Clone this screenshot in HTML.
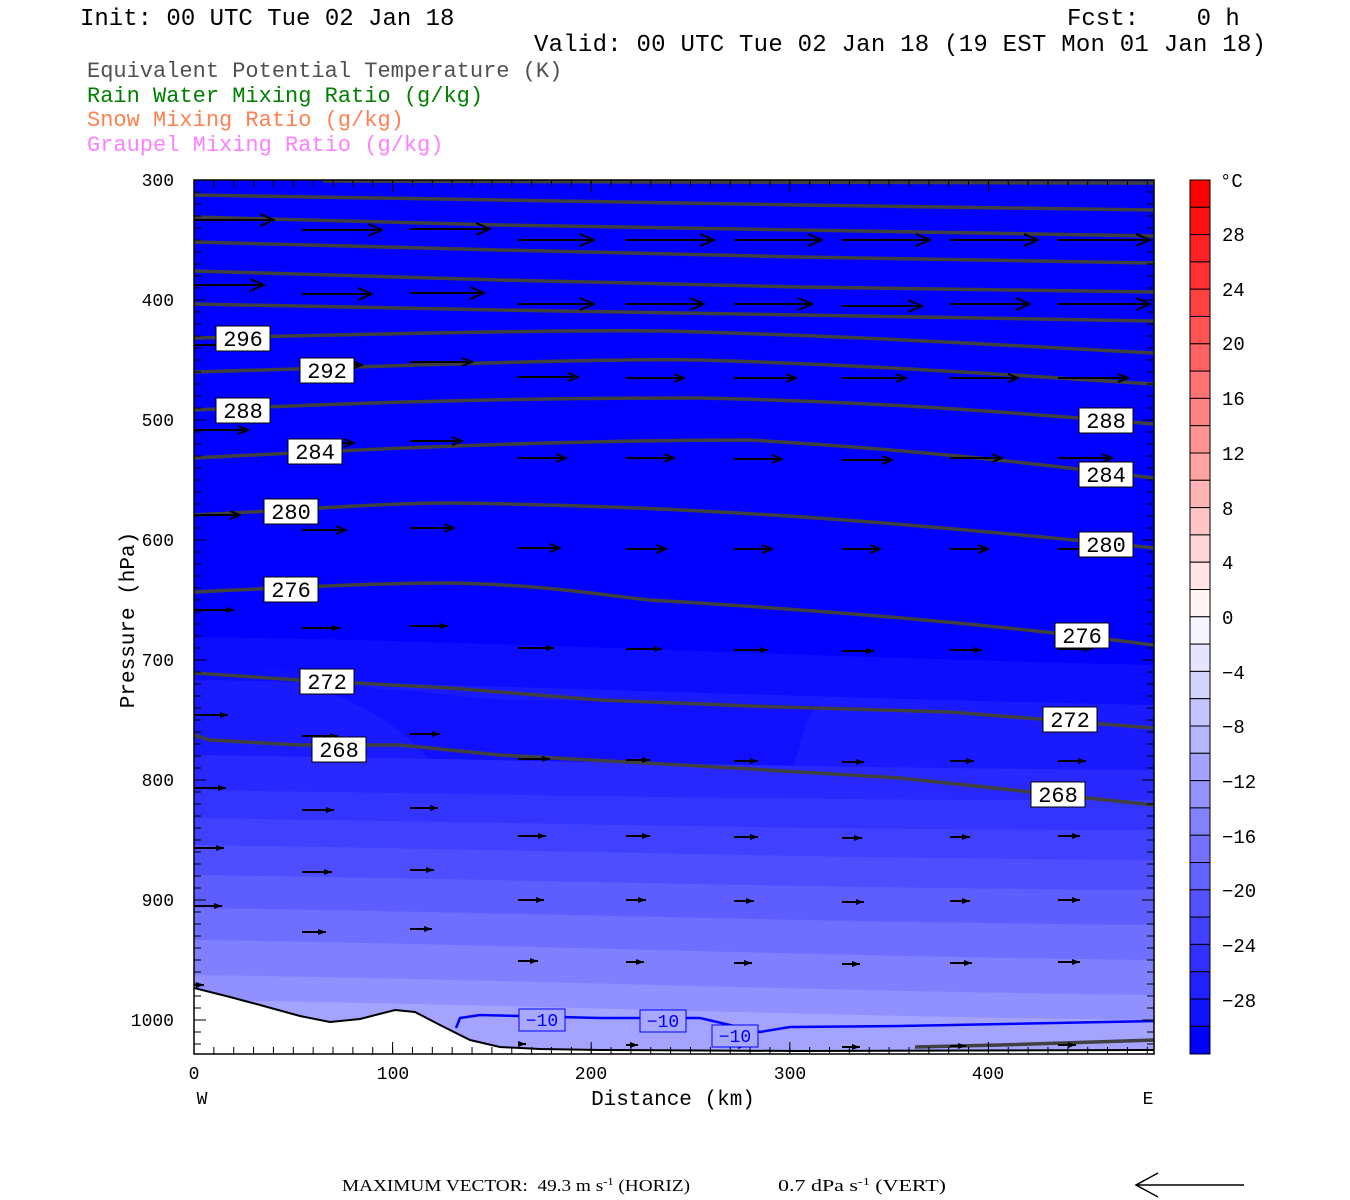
<!DOCTYPE html>
<html><head><meta charset="utf-8"><style>
html,body{margin:0;padding:0;background:#fff;}
svg{display:block;}
.t{font-family:"Liberation Mono",monospace;}
.s{font-family:"Liberation Serif",serif;}
</style></head><body>
<svg width="1350" height="1200" viewBox="0 0 1350 1200" xmlns="http://www.w3.org/2000/svg">
<defs>
<clipPath id="pc"><rect x="194" y="180" width="960" height="874"/></clipPath>
<marker id="a1" markerUnits="userSpaceOnUse" markerWidth="16" markerHeight="14" viewBox="0 0 16 14" refX="15" refY="7" orient="auto"><path d="M1,1 L15,7 L1,13" fill="none" stroke="#000" stroke-width="2"/></marker>
<marker id="a2" markerUnits="userSpaceOnUse" markerWidth="12" markerHeight="10" viewBox="0 0 12 10" refX="11" refY="5" orient="auto"><path d="M1,1 L11,5 L1,9" fill="none" stroke="#000" stroke-width="2"/></marker>
<marker id="a3" markerUnits="userSpaceOnUse" markerWidth="9" markerHeight="8" viewBox="0 0 9 8" refX="8" refY="4" orient="auto"><path d="M0,1 L8,4 L0,7Z" fill="#000"/></marker>
</defs>
<rect width="1350" height="1200" fill="#fff"/>
<text class="t" x="80" y="25" font-size="24" fill="#000">Init: 00 UTC Tue 02 Jan 18</text>
<text class="t" x="1067" y="25" font-size="24" fill="#000">Fcst:&#160;&#160;&#160;&#160;0&#160;h</text>
<text class="t" x="534" y="51" font-size="24" fill="#000" textLength="732">Valid: 00 UTC Tue 02 Jan 18 (19 EST Mon 01 Jan 18)</text>
<text class="t" x="87" y="77" font-size="22" fill="#505050">Equivalent Potential Temperature (K)</text>
<text class="t" x="87" y="102" font-size="22" fill="#008000">Rain Water Mixing Ratio (g/kg)</text>
<text class="t" x="87" y="126" font-size="22" fill="#ff8050">Snow Mixing Ratio (g/kg)</text>
<text class="t" x="87" y="151" font-size="22" fill="#ff80ff">Graupel Mixing Ratio (g/kg)</text>

<g clip-path="url(#pc)">
<rect x="194" y="180" width="960" height="874" fill="#0000ff"/>
<path d="M194,637 C500,641 800,657 1154,665 L1154,1060 L194,1060Z" fill="#0c0cff"/>
<path d="M194,680 C500,684 800,698 1154,705 L1154,1060 L194,1060Z" fill="#1a1aff"/>
<path d="M255,670 C320,665 360,690 390,690 C430,690 470,700 520,700 L820,705 C800,720 800,760 790,770 L430,760 C410,740 380,700 255,670Z" fill="#1010ff"/>
<path d="M194,755 C500,759 800,768 1154,770 L1154,1060 L194,1060Z" fill="#2828ff"/>
<path d="M194,790 C500,794 800,801 1154,800 L1154,1060 L194,1060Z" fill="#3434ff"/>
<path d="M194,818 C500,822 800,830 1154,830 L1154,1060 L194,1060Z" fill="#4040ff"/>
<path d="M194,845 C500,849 800,858 1154,860 L1154,1060 L194,1060Z" fill="#4e4eff"/>
<path d="M194,875 C500,879 800,888 1154,890 L1154,1060 L194,1060Z" fill="#5e5eff"/>
<path d="M194,908 C500,912 800,922 1154,925 L1154,1060 L194,1060Z" fill="#6e6eff"/>
<path d="M194,940 C500,944 800,956 1154,960 L1154,1060 L194,1060Z" fill="#8080ff"/>
<path d="M194,975 C500,979 800,991 1154,995 L1154,1060 L194,1060Z" fill="#9090ff"/>
<path d="M194,1000 C500,1004 800,1016 1154,1020 L1154,1060 L194,1060Z" fill="#a4a4ff"/>

<g stroke="#404040" stroke-width="3.5" fill="none" stroke-linejoin="round">
<path d="M194,195 L500,200 L800,205 L1154,210"/>
<path d="M194,217 L500,225 L800,230 L1154,236"/>
<path d="M194,242 L500,250 L800,257 L1154,263"/>
<path d="M194,271 L500,280 L800,287 L1154,292"/>
<path d="M194,304 L500,310 L800,315 L1154,321"/>
<path d="M194,338 C400,334 600,328 700,332 C900,338 1050,348 1154,353"/>
<path d="M194,372 C400,366 600,358 700,360 C900,366 1050,378 1154,384"/>
<path d="M194,410 C350,403 500,398 700,398 C900,402 1050,416 1154,424"/>
<path d="M194,458 C350,450 550,440 750,440 C950,452 1050,466 1154,478"/>
<path d="M194,515 C300,510 380,503 450,503 C700,506 900,522 1154,548"/>
<path d="M194,592 C300,587 380,583 450,583 C550,585 600,595 650,600 C850,612 1000,625 1154,645"/>
<path d="M194,673 L300,680 L450,688 L600,700 L750,706 L950,712 L1154,728"/>
<path d="M194,735 L210,740 L300,745 L400,745 L500,755 L700,766 L900,778 L1154,805"/>
<path d="M323,181 L700,182 L1154,183"/>
<path d="M915,1047 L1000,1045 L1154,1040"/>
</g>
<path d="M456,1028 L460,1018 L480,1015 L520,1016 L600,1018 L700,1018 L760,1032 L790,1027 L900,1026 L1154,1021" stroke="#0000ff" stroke-width="2.5" fill="none"/>

<g stroke="#000" stroke-width="2">
<g marker-end="url(#a1)">
<line x1="194" y1="220" x2="274" y2="220"/><line x1="302" y1="230" x2="382" y2="230"/><line x1="410" y1="229" x2="490" y2="229"/><line x1="518" y1="240" x2="594" y2="240"/><line x1="626" y1="240" x2="714" y2="240"/><line x1="734" y1="240" x2="822" y2="240"/><line x1="842" y1="240" x2="930" y2="240"/><line x1="950" y1="240" x2="1038" y2="240"/><line x1="1058" y1="240" x2="1150" y2="240"/>
<line x1="194" y1="285" x2="264" y2="285"/><line x1="302" y1="294" x2="372" y2="294"/><line x1="410" y1="293" x2="484" y2="293"/><line x1="518" y1="304" x2="594" y2="304"/><line x1="626" y1="304" x2="704" y2="304"/><line x1="734" y1="304" x2="812" y2="304"/><line x1="842" y1="306" x2="922" y2="306"/><line x1="950" y1="304" x2="1030" y2="304"/><line x1="1058" y1="304" x2="1150" y2="304"/>
</g>
<g marker-end="url(#a2)">
<line x1="194" y1="345" x2="254" y2="345"/><line x1="302" y1="365" x2="362" y2="365"/><line x1="410" y1="362" x2="472" y2="362"/><line x1="518" y1="377" x2="578" y2="377"/><line x1="626" y1="378" x2="684" y2="378"/><line x1="734" y1="378" x2="796" y2="378"/><line x1="842" y1="378" x2="906" y2="378"/><line x1="950" y1="378" x2="1018" y2="378"/><line x1="1058" y1="378" x2="1128" y2="378"/>
<line x1="194" y1="430" x2="248" y2="430"/><line x1="302" y1="443" x2="354" y2="443"/><line x1="410" y1="441" x2="462" y2="441"/><line x1="518" y1="458" x2="566" y2="458"/><line x1="626" y1="458" x2="674" y2="458"/><line x1="734" y1="459" x2="782" y2="459"/><line x1="842" y1="460" x2="892" y2="460"/><line x1="950" y1="458" x2="1002" y2="458"/><line x1="1058" y1="458" x2="1112" y2="458"/>
<line x1="194" y1="515" x2="240" y2="515"/><line x1="302" y1="530" x2="346" y2="530"/><line x1="410" y1="528" x2="454" y2="528"/><line x1="518" y1="548" x2="560" y2="548"/><line x1="626" y1="549" x2="666" y2="549"/><line x1="734" y1="549" x2="772" y2="549"/><line x1="842" y1="549" x2="880" y2="549"/><line x1="950" y1="549" x2="988" y2="549"/><line x1="1058" y1="549" x2="1098" y2="549"/>
</g>
<g marker-end="url(#a3)">
<line x1="194" y1="610" x2="234" y2="610"/><line x1="302" y1="628" x2="340" y2="628"/><line x1="410" y1="626" x2="448" y2="626"/><line x1="518" y1="648" x2="554" y2="648"/><line x1="626" y1="649" x2="662" y2="649"/><line x1="734" y1="650" x2="768" y2="650"/><line x1="842" y1="651" x2="874" y2="651"/><line x1="950" y1="650" x2="982" y2="650"/><line x1="1058" y1="649" x2="1092" y2="649"/>
<line x1="194" y1="715" x2="228" y2="715"/><line x1="302" y1="736" x2="338" y2="736"/><line x1="410" y1="734" x2="440" y2="734"/><line x1="518" y1="759" x2="550" y2="759"/><line x1="626" y1="760" x2="650" y2="760"/><line x1="734" y1="761" x2="758" y2="761"/><line x1="842" y1="762" x2="864" y2="762"/><line x1="950" y1="761" x2="974" y2="761"/><line x1="1058" y1="761" x2="1086" y2="761"/>
<line x1="194" y1="788" x2="226" y2="788"/><line x1="302" y1="810" x2="334" y2="810"/><line x1="410" y1="808" x2="438" y2="808"/><line x1="518" y1="836" x2="546" y2="836"/><line x1="626" y1="836" x2="650" y2="836"/><line x1="734" y1="837" x2="758" y2="837"/><line x1="842" y1="838" x2="862" y2="838"/><line x1="950" y1="837" x2="970" y2="837"/><line x1="1058" y1="836" x2="1080" y2="836"/>
<line x1="194" y1="848" x2="224" y2="848"/><line x1="302" y1="872" x2="332" y2="872"/><line x1="410" y1="870" x2="434" y2="870"/><line x1="518" y1="900" x2="544" y2="900"/><line x1="626" y1="900" x2="646" y2="900"/><line x1="734" y1="901" x2="754" y2="901"/><line x1="842" y1="902" x2="864" y2="902"/><line x1="950" y1="901" x2="970" y2="901"/><line x1="1058" y1="900" x2="1080" y2="900"/>
<line x1="194" y1="906" x2="222" y2="906"/><line x1="302" y1="932" x2="326" y2="932"/><line x1="410" y1="929" x2="432" y2="929"/><line x1="518" y1="961" x2="538" y2="961"/><line x1="626" y1="962" x2="644" y2="962"/><line x1="734" y1="963" x2="752" y2="963"/><line x1="842" y1="964" x2="860" y2="964"/><line x1="950" y1="963" x2="972" y2="963"/><line x1="1058" y1="962" x2="1080" y2="962"/>
<line x1="194" y1="985" x2="204" y2="985"/><line x1="518" y1="1044" x2="526" y2="1044"/><line x1="626" y1="1045" x2="638" y2="1045"/><line x1="734" y1="1046" x2="746" y2="1046"/><line x1="842" y1="1047" x2="860" y2="1047"/><line x1="950" y1="1046" x2="966" y2="1046"/><line x1="1058" y1="1045" x2="1076" y2="1045"/>
</g>
</g>

<polygon points="194,988 230,997 260,1005 300,1016 330,1022 360,1019 395,1010 415,1012 440,1025 470,1040 500,1047 540,1049 600,1050 800,1051 1154,1050 1154,1060 194,1060" fill="#fff"/>
<polyline points="194,988 230,997 260,1005 300,1016 330,1022 360,1019 395,1010 415,1012 440,1025 470,1040 500,1047 540,1049 600,1050 800,1051 1154,1050" stroke="#000" stroke-width="2" fill="none"/>
</g>

<g stroke="#000">
<line x1="197.5" y1="179.5" x2="197.5" y2="1054" stroke-width="7" stroke-dasharray="1 11"/>
<line x1="200" y1="179.5" x2="200" y2="1054" stroke-width="12" stroke-dasharray="1 119"/>
<line x1="1150.5" y1="179.5" x2="1150.5" y2="1054" stroke-width="7" stroke-dasharray="1 11"/>
<line x1="1148" y1="179.5" x2="1148" y2="1054" stroke-width="12" stroke-dasharray="1 119"/>
<line x1="193.5" y1="1050.5" x2="1154" y2="1050.5" stroke-width="7" stroke-dasharray="1 18.86"/>
<line x1="193.5" y1="1048" x2="1154" y2="1048" stroke-width="12" stroke-dasharray="1 197.6"/>
<line x1="193.5" y1="183.5" x2="1154" y2="183.5" stroke-width="7" stroke-dasharray="1 18.86"/>
<line x1="193.5" y1="186" x2="1154" y2="186" stroke-width="12" stroke-dasharray="1 197.6"/>
</g>
<rect x="194" y="180" width="960" height="874" fill="none" stroke="#000" stroke-width="1.5"/>

<g class="t" font-size="18" fill="#000" text-anchor="end">
<text x="174" y="186">300</text><text x="174" y="306">400</text><text x="174" y="426">500</text>
<text x="174" y="546">600</text><text x="174" y="666">700</text><text x="174" y="786">800</text>
<text x="174" y="906">900</text><text x="174" y="1026">1000</text>
</g>
<g class="t" font-size="18" fill="#000" text-anchor="middle">
<text x="194" y="1079">0</text><text x="393" y="1079">100</text><text x="591" y="1079">200</text>
<text x="790" y="1079">300</text><text x="988" y="1079">400</text>
<text x="202" y="1104">W</text><text x="1148" y="1104">E</text>
<text x="673" y="1105" font-size="21">Distance (km)</text>
</g>
<text class="t" font-size="21" fill="#000" text-anchor="middle" transform="translate(134,620) rotate(-90)">Pressure (hPa)</text>

<g stroke="#000" stroke-width="1">
<rect x="1190" y="180" width="20" height="27.3" fill="rgb(255,0,0)"/>
<rect x="1190" y="207.3" width="20" height="27.3" fill="rgb(255,16,16)"/>
<rect x="1190" y="234.6" width="20" height="27.3" fill="rgb(255,33,33)"/>
<rect x="1190" y="261.9" width="20" height="27.3" fill="rgb(255,49,49)"/>
<rect x="1190" y="289.2" width="20" height="27.3" fill="rgb(255,65,65)"/>
<rect x="1190" y="316.5" width="20" height="27.3" fill="rgb(255,82,82)"/>
<rect x="1190" y="343.8" width="20" height="27.3" fill="rgb(255,98,98)"/>
<rect x="1190" y="371.1" width="20" height="27.3" fill="rgb(255,114,114)"/>
<rect x="1190" y="398.4" width="20" height="27.3" fill="rgb(255,131,131)"/>
<rect x="1190" y="425.7" width="20" height="27.3" fill="rgb(255,147,147)"/>
<rect x="1190" y="453" width="20" height="27.3" fill="rgb(255,163,163)"/>
<rect x="1190" y="480.3" width="20" height="27.3" fill="rgb(255,180,180)"/>
<rect x="1190" y="507.6" width="20" height="27.3" fill="rgb(255,196,196)"/>
<rect x="1190" y="534.9" width="20" height="27.3" fill="rgb(255,212,212)"/>
<rect x="1190" y="562.2" width="20" height="27.3" fill="rgb(255,229,229)"/>
<rect x="1190" y="589.5" width="20" height="27.3" fill="rgb(255,245,245)"/>
<rect x="1190" y="616.8" width="20" height="27.3" fill="rgb(245,245,255)"/>
<rect x="1190" y="644.1" width="20" height="27.3" fill="rgb(229,229,255)"/>
<rect x="1190" y="671.4" width="20" height="27.3" fill="rgb(212,212,255)"/>
<rect x="1190" y="698.7" width="20" height="27.3" fill="rgb(196,196,255)"/>
<rect x="1190" y="726" width="20" height="27.3" fill="rgb(180,180,255)"/>
<rect x="1190" y="753.3" width="20" height="27.3" fill="rgb(163,163,255)"/>
<rect x="1190" y="780.6" width="20" height="27.3" fill="rgb(147,147,255)"/>
<rect x="1190" y="807.9" width="20" height="27.3" fill="rgb(131,131,255)"/>
<rect x="1190" y="835.2" width="20" height="27.3" fill="rgb(114,114,255)"/>
<rect x="1190" y="862.5" width="20" height="27.3" fill="rgb(98,98,255)"/>
<rect x="1190" y="889.8" width="20" height="27.3" fill="rgb(82,82,255)"/>
<rect x="1190" y="917.1" width="20" height="27.3" fill="rgb(65,65,255)"/>
<rect x="1190" y="944.4" width="20" height="27.3" fill="rgb(49,49,255)"/>
<rect x="1190" y="971.7" width="20" height="27.3" fill="rgb(33,33,255)"/>
<rect x="1190" y="999" width="20" height="27.3" fill="rgb(16,16,255)"/>
<rect x="1190" y="1026.3" width="20" height="27.7" fill="rgb(0,0,255)"/>
</g>
<g class="t" font-size="19" fill="#000">
<text x="1220" y="187">°C</text>
<text x="1222" y="241">28</text><text x="1222" y="296">24</text><text x="1222" y="350">20</text>
<text x="1222" y="405">16</text><text x="1222" y="460">12</text><text x="1222" y="515">8</text>
<text x="1222" y="569">4</text><text x="1222" y="624">0</text><text x="1222" y="679">−4</text>
<text x="1222" y="733">−8</text><text x="1222" y="788">−12</text><text x="1222" y="843">−16</text>
<text x="1222" y="897">−20</text><text x="1222" y="952">−24</text><text x="1222" y="1007">−28</text>
</g>

<g class="s" font-size="17" fill="#000">
<text x="342" y="1191" textLength="348" lengthAdjust="spacingAndGlyphs">MAXIMUM VECTOR:&#160;&#160;49.3 m s<tspan dy="-6" font-size="11">-1</tspan><tspan dy="6"> (HORIZ)</tspan></text>
<text x="778" y="1191" textLength="168" lengthAdjust="spacingAndGlyphs">0.7 dPa s<tspan dy="-6" font-size="11">-1</tspan><tspan dy="6"> (VERT)</tspan></text>
</g>
<g stroke="#000" stroke-width="1.5" fill="none">
<line x1="1136" y1="1185" x2="1244" y2="1185"/><polyline points="1158,1173 1136,1185 1158,1197"/>
</g>

<g class="t" font-size="22" fill="#000" text-anchor="middle">
<rect x="216" y="326" width="54" height="25" fill="#fff" stroke="#000"/><text x="243" y="346">296</text>
<rect x="300" y="358" width="54" height="25" fill="#fff" stroke="#000"/><text x="327" y="378">292</text>
<rect x="216" y="398" width="54" height="25" fill="#fff" stroke="#000"/><text x="243" y="418">288</text>
<rect x="288" y="439" width="54" height="25" fill="#fff" stroke="#000"/><text x="315" y="459">284</text>
<rect x="264" y="499" width="54" height="25" fill="#fff" stroke="#000"/><text x="291" y="519">280</text>
<rect x="264" y="577" width="54" height="25" fill="#fff" stroke="#000"/><text x="291" y="597">276</text>
<rect x="300" y="669" width="54" height="25" fill="#fff" stroke="#000"/><text x="327" y="689">272</text>
<rect x="312" y="737" width="54" height="25" fill="#fff" stroke="#000"/><text x="339" y="757">268</text>
<rect x="1079" y="408" width="54" height="25" fill="#fff" stroke="#000"/><text x="1106" y="428">288</text>
<rect x="1079" y="462" width="54" height="25" fill="#fff" stroke="#000"/><text x="1106" y="482">284</text>
<rect x="1079" y="532" width="54" height="25" fill="#fff" stroke="#000"/><text x="1106" y="552">280</text>
<rect x="1055" y="623" width="54" height="25" fill="#fff" stroke="#000"/><text x="1082" y="643">276</text>
<rect x="1043" y="707" width="54" height="25" fill="#fff" stroke="#000"/><text x="1070" y="727">272</text>
<rect x="1031" y="782" width="54" height="25" fill="#fff" stroke="#000"/><text x="1058" y="802">268</text>
</g>
<g class="t" font-size="18" fill="#0000ff" text-anchor="middle">
<rect x="519" y="1009" width="46" height="22" fill="#a8a8ff" stroke="#0000ff"/><text x="542" y="1026">−10</text>
<rect x="640" y="1010" width="46" height="22" fill="#a8a8ff" stroke="#0000ff"/><text x="663" y="1027">−10</text>
<rect x="712" y="1025" width="46" height="22" fill="#a8a8ff" stroke="#0000ff"/><text x="735" y="1042">−10</text>
</g>
</svg>
</body></html>
